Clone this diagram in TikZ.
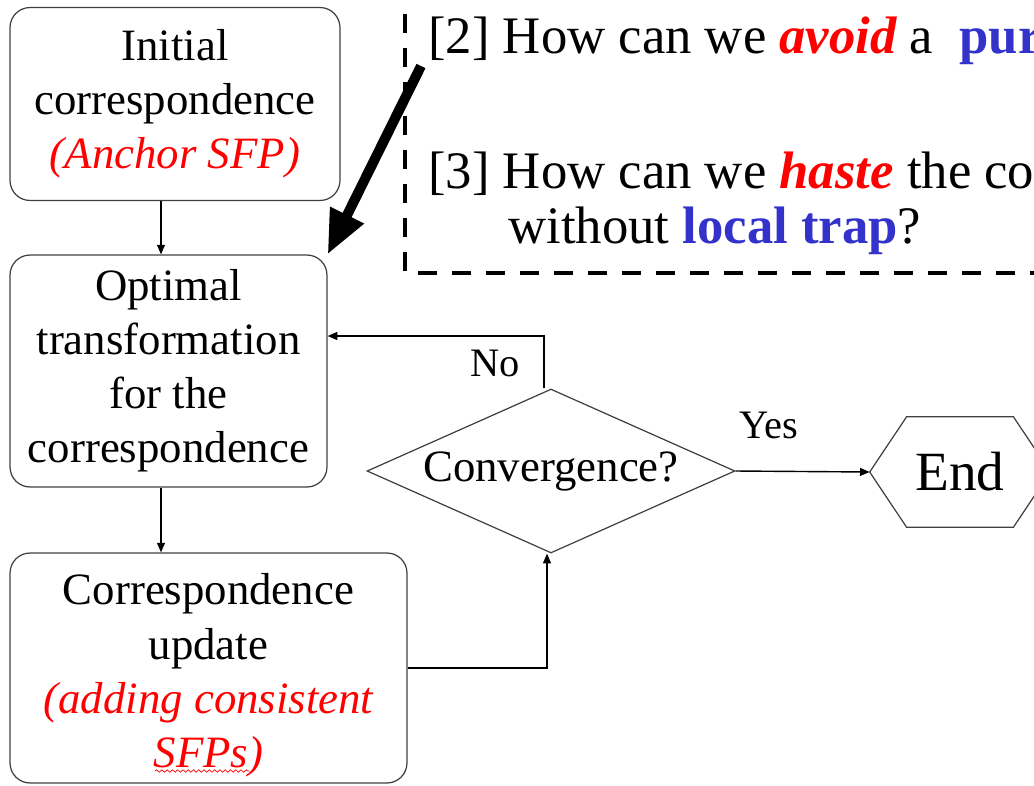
\documentclass[tikz,border=0pt]{standalone}
\usepackage{fontspec}
\setmainfont{Liberation Serif}
\usepackage{xcolor}
\usetikzlibrary{shapes.geometric, arrows.meta, calc, decorations.pathmorphing}

\definecolor{qblue}{RGB}{51,51,204}
\newcommand{\boxfont}{\fontsize{25.5}{30.8}\selectfont}
\newcommand{\askfont}{\fontsize{30}{36}\selectfont}

\begin{document}
\begin{tikzpicture}[
  x=0.02cm, y=-0.02cm,
  box/.style={rectangle, draw=black!75, line width=0.7pt, rounded corners=0.4cm, font=\boxfont, align=center, inner sep=0pt},
  dec/.style={diamond, draw=black!75, line width=0.7pt, aspect=2.24, inner sep=0pt, minimum width=7.36cm, minimum height=3.28cm, font=\boxfont},
  term/.style={rectangle, minimum width=3.6cm, minimum height=2.2cm, inner sep=0pt, font=\fontsize{31.5}{36}\selectfont},
  arr/.style={-{Triangle[length=5.5pt, width=4.5pt]}, line width=0.8pt},
  big/.style={-{Triangle[length=25pt, width=20pt]}, line width=5.7pt},
  ask/.style={anchor=base west, inner sep=0pt, font=\askfont},
  lbl/.style={font=\fontsize{23}{28}\selectfont, inner sep=0pt},
]
\useasboundingbox (0,0) rectangle (1034,785);
\clip (0,0) rectangle (1034,785);

% flow boxes
\node[box, minimum width=6.6cm, minimum height=3.86cm]  (init) at (175,104)   {Initial\\correspondence\\{\color{red}\itshape (Anchor SFP)}};
\node[box, minimum width=6.34cm, minimum height=4.64cm] (opt)  at (168.5,371) {Optimal\\transformation\\for the\\correspondence};
\node[box, minimum width=7.94cm, minimum height=4.6cm]  (upd)  at (208.5,668) {\rule{0pt}{26pt}Correspondence\\update\\{\color{red}\itshape (adding consistent}\\{\color{red}\itshape SFPs)}};
\node[dec]  (cv)  at (551,471) {Convergence?};
\node[term] (fin) at (960,472) {End};
\draw[draw=black!75, line width=0.7pt] (fin.west) -- ($(fin.north west)+(37,0)$) -- ($(fin.north east)+(-37,0)$)
  -- (fin.east) -- ($(fin.south east)+(-37,0)$) -- ($(fin.south west)+(37,0)$) -- cycle;

\coordinate (ax)  at (161,0);
\coordinate (noy) at (0,336);
\draw[red, decorate, decoration={snake, amplitude=0.7pt, segment length=3pt}] (155,771) -- (250,771);

\draw[arr] (ax |- init.south) -- (ax |- opt.north);
\draw[arr] (ax |- opt.south)  -- (ax |- upd.north);
\draw[arr] (upd.east) -| ($(cv.south)+(-4,0)$);
\draw[arr] ($(cv.north)+(-7,0)$) |- (opt.east |- noy);
\draw[arr] (cv.east) -- (fin.west);
\node[lbl] (no)  at (495,363) {No};
\node[lbl] (yes) at (769,425) {Yes};

% question box
\draw[dashed, line width=0.09cm, dash pattern=on 0.38cm off 0.3cm] (405,-20) -- (405,273) -- (1100,273);
\node[ask] (q2) at (428,53)  {[2] How can we {\color{red}\bfseries\itshape avoid} a~ {\color{qblue}\bfseries pur}};
\node[ask] (q3) at (428,188) {[3] How can we {\color{red}\bfseries\itshape haste} the co};
\node[ask] (q3b) at (508,243) {without {\color{qblue}\bfseries local trap}?};

\coordinate (tail) at (421,66);
\draw[big] (tail) -- (opt.north east);
\end{tikzpicture}
\end{document}
